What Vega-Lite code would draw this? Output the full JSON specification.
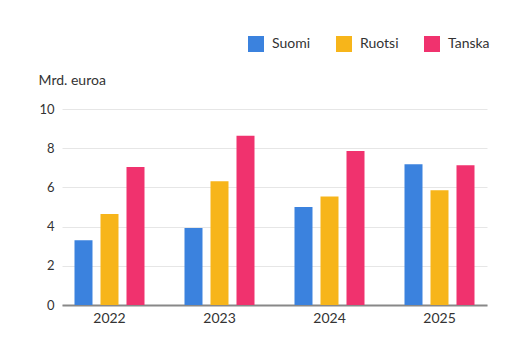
{
  "$schema": "https://vega.github.io/schema/vega-lite/v6.json",
  "width": 425,
  "height": 196,
  "autosize": "none",
  "padding": {"left": 62, "top": 109, "right": 38, "bottom": 55},
  "background": "white",
  "config": {
    "font": "Lato",
    "view": {"stroke": null}
  },
  "data": {
    "values": [
      {"vuosi": "2022", "maa": "Suomi", "arvo": 3.3},
      {"vuosi": "2022", "maa": "Ruotsi", "arvo": 4.64},
      {"vuosi": "2022", "maa": "Tanska", "arvo": 7.04},
      {"vuosi": "2023", "maa": "Suomi", "arvo": 3.93},
      {"vuosi": "2023", "maa": "Ruotsi", "arvo": 6.31},
      {"vuosi": "2023", "maa": "Tanska", "arvo": 8.64},
      {"vuosi": "2024", "maa": "Suomi", "arvo": 5.0},
      {"vuosi": "2024", "maa": "Ruotsi", "arvo": 5.54},
      {"vuosi": "2024", "maa": "Tanska", "arvo": 7.86},
      {"vuosi": "2025", "maa": "Suomi", "arvo": 7.18},
      {"vuosi": "2025", "maa": "Ruotsi", "arvo": 5.85},
      {"vuosi": "2025", "maa": "Tanska", "arvo": 7.13}
    ]
  },
  "mark": {"type": "bar"},
  "encoding": {
    "x": {
      "field": "vuosi",
      "type": "nominal",
      "scale": {"paddingInner": 0.3636, "paddingOuter": 0.1136},
      "axis": {
        "title": null,
        "labelAngle": 0,
        "labelFontSize": 14,
        "labelColor": "#333333",
        "labelPadding": 6,
        "ticks": false,
        "domainColor": "#888888",
        "domainWidth": 2
      }
    },
    "xOffset": {
      "field": "maa",
      "type": "nominal",
      "sort": ["Suomi", "Ruotsi", "Tanska"],
      "scale": {"paddingInner": 0.3077, "paddingOuter": 0}
    },
    "y": {
      "field": "arvo",
      "type": "quantitative",
      "scale": {"domain": [0, 10]},
      "axis": {
        "title": "Mrd. euroa",
        "titleAngle": 0,
        "titleAlign": "left",
        "titleBaseline": "middle",
        "titleX": -24,
        "titleY": -29,
        "titleFontSize": 14,
        "titleFontWeight": "normal",
        "titleColor": "#333333",
        "values": [0, 2, 4, 6, 8, 10],
        "labelFontSize": 13,
        "labelColor": "#333333",
        "labelPadding": 8,
        "ticks": false,
        "domain": false,
        "gridColor": "#e6e6e6",
        "gridWidth": 1
      }
    },
    "color": {
      "field": "maa",
      "type": "nominal",
      "sort": ["Suomi", "Ruotsi", "Tanska"],
      "scale": {"domain": ["Suomi", "Ruotsi", "Tanska"], "range": ["#3b82de", "#f7b51a", "#f0326e"]},
      "legend": {
        "title": null,
        "orient": "none",
        "direction": "horizontal",
        "legendX": 186,
        "legendY": -73,
        "symbolType": "square",
        "symbolSize": 256,
        "symbolStrokeWidth": 0,
        "symbolOpacity": 1,
        "labelFontSize": 14,
        "labelColor": "#333333",
        "labelOffset": 8,
        "columnPadding": 25,
        "padding": 0
      }
    }
  }
}
